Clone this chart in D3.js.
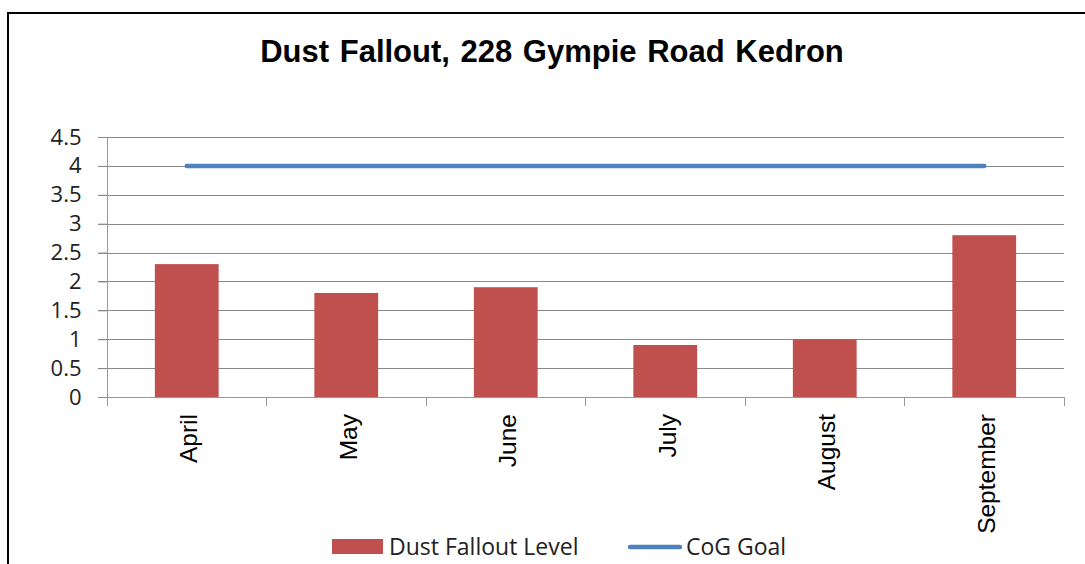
<!DOCTYPE html>
<html>
<head>
<meta charset="utf-8">
<script src="https://cdn.jsdelivr.net/npm/d3@7"></script>
<style>
	body { margin: 0; background: #fff; }
	svg { display: block; }
</style>
</head>
<body>
<div id="chart"></div>
<script>
	// chart data
	var months = ['April', 'May', 'June', 'July', 'August', 'September'];
	var dustLevels = [2.3, 1.8, 1.9, 0.9, 1.0, 2.8];
	var goalLevels = [4, 4, 4, 4, 4, 4];
	var yTicks = [0, 0.5, 1, 1.5, 2, 2.5, 3, 3.5, 4, 4.5];
	var seriesNames = ['Dust Fallout Level', 'CoG Goal'];

	var width = 1085;
	var height = 564;
	var plot = { left: 107, right: 1064, top: 137, bottom: 397 };

	var barColor = '#c0504d';
	var lineColor = '#4f81bd';
	var gridColor = '#8a8a8a';

	var svg = d3.select('#chart').append('svg')
		.attr('width', width).attr('height', height);

	// outer frame, only the top and left edges are in view
	svg.append('rect')
		.attr('x', 8).attr('y', 13)
		.attr('width', width + 20).attr('height', height + 20)
		.attr('fill', 'none')
		.attr('stroke', '#000')
		.attr('stroke-width', 2);

	svg.append('text')
		.attr('x', 552).attr('y', 62)
		.attr('text-anchor', 'middle')
		.style('font-family', 'Liberation Sans, Arial, sans-serif')
		.style('font-weight', 'bold')
		.style('font-size', '31px')
		.style('word-spacing', '2px')
		.attr('fill', '#000')
		.text('Dust Fallout, 228 Gympie Road Kedron');

	var x = d3.scaleBand()
		.domain(months)
		.range([plot.left, plot.right])
		.paddingInner(0.6)
		.paddingOuter(0.3);

	var y = d3.scaleLinear()
		.domain([0, 4.5])
		.range([plot.bottom, plot.top]);

	// gridlines
	svg.append('g')
		.selectAll('line')
		.data(yTicks)
		.join('line')
		.attr('x1', plot.left - 9).attr('x2', plot.right)
		.attr('y1', d => Math.round(y(d)) + 0.5)
		.attr('y2', d => Math.round(y(d)) + 0.5)
		.attr('stroke', gridColor)
		.attr('stroke-width', 1);

	// y axis
	var yAxis = svg.append('g')
		.attr('transform', 'translate(' + (plot.left + 0.5) + ',0)')
		.call(d3.axisLeft(y).tickValues(yTicks).tickSize(9).tickPadding(17).tickFormat(d3.format('')));
	yAxis.select('.domain').attr('stroke', '#999').attr('d', 'M0,' + plot.top + 'V' + (plot.bottom + 9));
	yAxis.selectAll('.tick line').attr('stroke', gridColor);
	yAxis.selectAll('.tick text')
		.style('font-family', 'Open Sans, sans-serif')
		.style('font-size', '22px')
		.attr('fill', '#222');

	// x axis: ticks at category boundaries
	var step = x.step();
	var boundaries = months.map(m => x(m) - step * x.paddingInner() / 2).concat([plot.right]);
	svg.append('g')
		.selectAll('line')
		.data(boundaries)
		.join('line')
		.attr('x1', d => Math.round(d) + 0.5).attr('x2', d => Math.round(d) + 0.5)
		.attr('y1', plot.bottom).attr('y2', plot.bottom + 9)
		.attr('stroke', '#999');

	// bars
	svg.append('g')
		.selectAll('rect')
		.data(dustLevels)
		.join('rect')
		.attr('x', (d, i) => x(months[i]))
		.attr('y', d => y(d))
		.attr('width', x.bandwidth())
		.attr('height', d => y(0) - y(d))
		.attr('fill', barColor);

	// x axis baseline on top of bars
	svg.append('line')
		.attr('x1', plot.left).attr('x2', plot.right)
		.attr('y1', plot.bottom + 0.5).attr('y2', plot.bottom + 0.5)
		.attr('stroke', '#999');

	// goal line
	var line = d3.line()
		.x((d, i) => x(months[i]) + x.bandwidth() / 2)
		.y(d => y(d));
	svg.append('path')
		.datum(goalLevels)
		.attr('d', line)
		.attr('fill', 'none')
		.attr('stroke', lineColor)
		.attr('stroke-width', 4.5)
		.attr('stroke-linecap', 'round');

	// month labels
	svg.append('g')
		.selectAll('text')
		.data(months)
		.join('text')
		.attr('transform', d => 'translate(' + (x(d) + x.bandwidth() / 2 + 2) + ',' + (plot.bottom + 17) + ') rotate(-90)')
		.attr('text-anchor', 'end')
		.attr('dy', '0.35em')
		.style('font-family', 'Liberation Sans, Arial, sans-serif')
		.style('font-size', '24.5px')
		.attr('fill', '#000')
		.text(d => d);

	// legend
	var legend = svg.append('g')
		.style('font-family', 'Open Sans, sans-serif')
		.style('font-size', '23px')
		.attr('fill', '#222');
	legend.append('rect')
		.attr('x', 332).attr('y', 539)
		.attr('width', 51).attr('height', 15)
		.attr('fill', barColor);
	legend.append('text')
		.attr('x', 389).attr('y', 555)
		.text(seriesNames[0]);
	legend.append('line')
		.attr('x1', 630).attr('x2', 680)
		.attr('y1', 547).attr('y2', 547)
		.attr('stroke', lineColor)
		.attr('stroke-width', 4.5)
		.attr('stroke-linecap', 'round');
	legend.append('text')
		.attr('x', 686).attr('y', 555)
		.text(seriesNames[1]);
</script>
</body>
</html>
